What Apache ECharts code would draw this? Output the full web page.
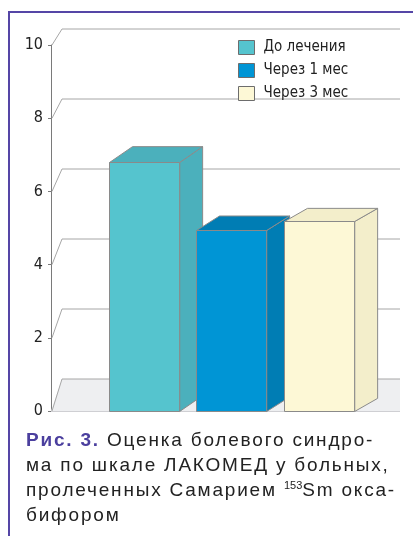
<!DOCTYPE html>
<html>
<head>
<meta charset="utf-8">
<script src="https://cdn.jsdelivr.net/npm/echarts@6/dist/echarts.min.js"></script>
<style>
    html, body { margin: 0; padding: 0; background: #fff; }
    #wrap { position: relative; width: 413px; height: 536px; overflow: hidden; }
    #chart { position: absolute; left: 0; top: 0; width: 413px; height: 536px; }
    #frame { position: absolute; left: 8px; top: 11px; width: 420px; height: 540px;
             border-left: 2px solid #5546a6; border-top: 2px solid #5546a6; }
    #cap { position: absolute; left: 26px; top: 427px; width: 387px;
           font-family: 'Liberation Sans', Arial, sans-serif; font-size: 19px;
           letter-spacing: 1.8px; line-height: 25px; color: #222; }
    #cap b { color: #4b3f9e; }
    #cap sup { font-size: 11px; letter-spacing: 0; vertical-align: 7px; line-height: 0; }
</style>
</head>
<body>
<div id="wrap">
    <div id="chart"></div>
    <div id="frame"></div>
    <div id="cap">
        <div><b>Рис. 3.</b> Оценка болевого синдро-</div>
        <div>ма по шкале ЛАКОМЕД у больных,</div>
        <div>пролеченных Самарием <sup>153</sup>Sm окса-</div>
        <div>бифором</div>
    </div>
</div>
<script type="text/javascript">
    // данные
    var categories = ['До лечения', 'Через 1 мес', 'Через 3 мес'];
    var values = [6.8, 4.95, 5.2];
    var yTicks = [0, 2, 4, 6, 8, 10];

    var frontColors = ['#55c4ce', '#0095d5', '#fdf8d6'];
    var sideColors = ['#4bb0bc', '#007db4', '#f3eecb'];
    var edge = '#8a8a8a';
    var narrow = "'DejaVu Sans Condensed', Arial, sans-serif";

    var myChart = echarts.init(document.getElementById('chart'));

    // задняя стенка и пол
    function renderWall(params, api) {
        var cs = params.coordSys;
        var v = api.value(0);
        var p = api.coord([0, v]);
        var dy = -16 - 16 * (p[1] - cs.y) / cs.height;
        var right = cs.x + cs.width;
        var children = [];
        if (v === 0) {
            children.push({
                type: 'polygon',
                shape: { points: [[cs.x, p[1]], [cs.x + 11, p[1] + dy], [right, p[1] + dy], [right, p[1]]] },
                style: { fill: '#eeeff1' }
            });
            children.push({
                type: 'line',
                shape: { x1: cs.x, y1: p[1] + 0.5, x2: right, y2: p[1] + 0.5 },
                style: { stroke: '#cfcfd3', lineWidth: 1 }
            });
        }
        children.push({
            type: 'polyline',
            shape: { points: [[cs.x + 1, p[1]], [cs.x + 11, p[1] + dy], [right, p[1] + dy]] },
            style: { stroke: '#a6a6a6', lineWidth: 1, fill: null }
        });
        return { type: 'group', children: children };
    }

    // объёмный столбик
    function makeCube(idx) {
        return function (params, api) {
            var cs = params.coordSys;
            var top = api.coord([api.value(0), api.value(1)]);
            var bot = api.coord([api.value(0), 0]);
            var w = api.size([1, 0])[0] * 0.8;
            var x0 = Math.round(top[0] - w / 2) + 0.5;
            var x1 = x0 + w;
            var yt = Math.round(top[1]) + 0.5;
            var yb = Math.round(bot[1]) + 0.5;
            var dx = 23;
            var dy = -16 + (x0 - cs.x) * 0.0155;
            var st = { stroke: edge, lineWidth: 1 };
            return {
                type: 'group',
                children: [
                    { type: 'polygon', shape: { points: [[x1, yt], [x1 + dx, yt + dy], [x1 + dx, yb + dy], [x1, yb]] },
                      style: Object.assign({ fill: sideColors[idx] }, st) },
                    { type: 'polygon', shape: { points: [[x0, yt], [x0 + dx, yt + dy], [x1 + dx, yt + dy], [x1, yt]] },
                      style: Object.assign({ fill: sideColors[idx] }, st) },
                    { type: 'rect', shape: { x: x0, y: yt, width: w, height: yb - yt },
                      style: Object.assign({ fill: frontColors[idx] }, st) }
                ]
            };
        };
    }

    var series = [{
        type: 'custom',
        name: 'wall',
        xAxisIndex: 0,
        yAxisIndex: 0,
        clip: false,
        silent: true,
        renderItem: renderWall,
        encode: { y: 0 },
        data: yTicks.map(function (t) { return [t]; }),
        z: 1
    }];
    categories.forEach(function (c, i) {
        series.push({
            type: 'custom',
            name: c,
            xAxisIndex: 1,
            yAxisIndex: 1,
            clip: false,
            renderItem: makeCube(i),
            itemStyle: { color: frontColors[i] },
            encode: { x: 0, y: 1 },
            data: [[i, values[i]]],
            z: 2
        });
    });

    myChart.setOption({
        animation: false,
        textStyle: { fontFamily: narrow },
        legend: {
            data: categories,
            orient: 'vertical',
            left: 233,
            top: 35,
            itemWidth: 16,
            itemHeight: 14,
            itemGap: 8,
            selectedMode: false,
            icon: 'rect',
            itemStyle: { borderColor: '#6d6d6d', borderWidth: 1 },
            textStyle: { fontSize: 15, color: '#222', fontFamily: narrow, padding: [0, 0, 0, 4] }
        },
        grid: [
            { left: 51, top: 45, right: 13, height: 366 },
            { left: 100, top: 45, width: 263, height: 366 }
        ],
        xAxis: [
            { gridIndex: 0, type: 'value', min: 0, max: 1, show: false },
            { gridIndex: 1, type: 'category', data: categories, show: false }
        ],
        yAxis: [
            {
                gridIndex: 0, type: 'value', min: 0, max: 10, interval: 2,
                axisLine: { show: true, lineStyle: { color: '#7a7a7a' } },
                axisTick: { show: true, length: 3, lineStyle: { color: '#7a7a7a' } },
                splitLine: { show: false },
                axisLabel: { margin: 8, fontSize: 16, color: '#222', fontFamily: narrow,
                    formatter: function (v) { return yTicks.indexOf(v) >= 0 ? String(v) : ''; } }
            },
            { gridIndex: 1, type: 'value', min: 0, max: 10, show: false }
        ],
        series: series
    });
</script>
</body>
</html>
